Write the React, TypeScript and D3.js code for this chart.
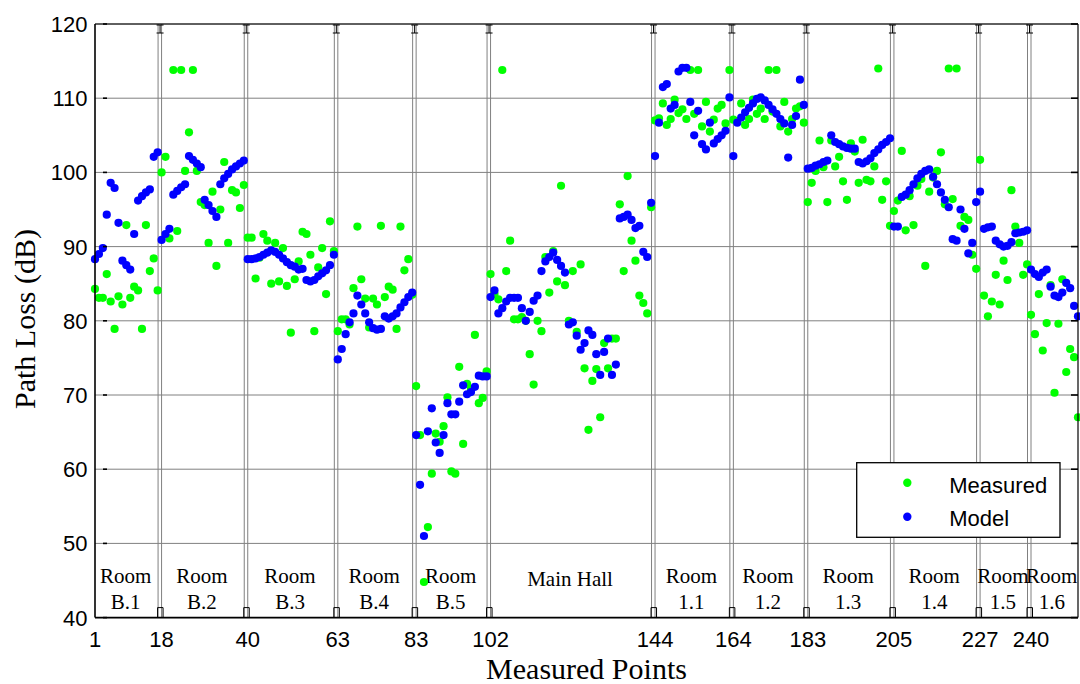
import React from "react"
import * as d3 from "d3"

// ── Data ───────────────────────────────────────────────────────────────────────

const X_TICKS = [1, 18, 40, 63, 83, 102, 144, 164, 183, 205, 227, 240]
const X_END = 252
const Y_TICKS = [40, 50, 60, 70, 80, 90, 100, 110, 120]

const ROOM_NAMES = [
  ["Room", "B.1"], ["Room", "B.2"], ["Room", "B.3"], ["Room", "B.4"], ["Room", "B.5"],
  ["Main Hall"],
  ["Room", "1.1"], ["Room", "1.2"], ["Room", "1.3"], ["Room", "1.4"], ["Room", "1.5"], ["Room", "1.6"],
]

// measured path loss (dB), one value per measured point, room by room
const MEAS_B1 = [84.3, 83.1, 83.1, 86.3, 82.6, 78.9, 83.3, 82.2, 92.9, 83.1, 84.6, 84.1, 78.9, 92.9, 86.7, 88.4, 84.1]
const MEAS_B2 = [100.0, 102.1, 91.1, 113.8, 92.1, 113.8, 100.2, 105.4, 113.8, 100.2, 96.0, 95.6, 90.5, 97.4, 87.4, 95.0, 101.4, 90.5, 97.6, 97.3, 95.2, 98.3]
const MEAS_B3 = [91.2, 91.2, 85.7, 88.5, 91.7, 90.8, 85.0, 90.5, 85.3, 89.8, 84.7, 78.4, 85.6, 88.0, 92.0, 91.7, 88.9, 78.6, 87.2, 89.8, 83.6, 93.4, 89.4]
const MEAS_B4 = [78.6, 80.2, 80.2, 79.5, 84.4, 92.7, 85.6, 83.0, 79.1, 83.0, 82.2, 92.8, 83.2, 84.6, 84.2, 78.9, 92.7, 86.8, 88.3, 83.5]
const MEAS_B5 = [71.2, 64.6, 44.8, 52.2, 59.4, 64.8, 63.7, 65.8, 69.7, 59.7, 59.4, 73.8, 63.4, 71.5, 70.8, 78.1, 68.9, 69.6, 73.2]
const MEAS_HALL = [86.3, 83.6, 82.9, 113.8, 86.7, 90.8, 80.2, 80.2, 80.5, 80.0, 75.5, 71.4, 80.0, 78.6, 88.6, 83.8, 89.4, 85.3, 98.2, 84.8, 80.0, 86.7, 78.5, 87.6, 73.6, 65.3, 71.9, 73.5, 67.0, 77.0, 73.6, 77.6, 77.6, 95.7, 86.7, 99.5, 90.8, 88.1, 83.4, 82.4, 81.0, 95.3]
const MEAS_11 = [107.0, 107.3, 109.3, 106.4, 107.2, 109.8, 108.0, 108.5, 107.2, 113.8, 107.9, 113.8, 106.2, 109.5, 105.5, 107.1, 108.6, 109.1, 106.6, 113.8]
const MEAS_12 = [107.1, 106.9, 109.3, 106.4, 107.2, 109.8, 107.9, 108.6, 107.2, 113.8, 108.2, 113.8, 106.2, 109.5, 105.5, 107.2, 108.6, 108.9, 106.7]
const MEAS_13 = [96.0, 98.6, 100.2, 104.3, 100.7, 96.0, 104.3, 100.8, 102.1, 98.8, 96.3, 103.9, 102.8, 98.6, 104.4, 99.0, 98.8, 100.8, 114.0, 96.3, 98.8, 92.8]
const MEAS_14 = [94.8, 96.2, 102.9, 92.2, 96.8, 92.9, 98.2, 99.1, 87.4, 97.4, 99.3, 100.2, 102.7, 95.7, 114.0, 96.4, 114.0, 92.8, 94.0, 93.6, 88.9, 87.0]
const MEAS_15 = [101.7, 83.4, 80.6, 82.6, 86.2, 82.2, 88.1, 85.5, 97.6, 92.7, 90.5, 86.2, 87.6]
const MEAS_16 = [80.8, 78.2, 83.6, 76.0, 79.7, 84.8, 70.3, 79.6, 85.6, 73.1, 76.2, 75.1, 67.0]

// model path loss (dB)
const MODEL_B1 = [88.3, 89.0, 89.8, 94.3, 98.6, 97.9, 93.2, 88.1, 87.5, 86.9, 91.7, 96.2, 96.8, 97.3, 97.7, 102.1, 102.7]
const MODEL_B2 = [90.9, 91.7, 92.4, 97.0, 97.5, 98.0, 98.4, 102.2, 101.7, 101.2, 100.7, 96.3, 95.6, 94.8, 94.0, 98.4, 99.2, 99.8, 100.4, 100.8, 101.2, 101.6]
const MODEL_B3 = [88.3, 88.3, 88.4, 88.6, 88.9, 89.2, 89.5, 89.3, 88.9, 88.4, 87.9, 87.5, 87.3, 86.9, 87.0, 85.5, 85.3, 85.5, 86.0, 86.4, 86.8, 87.5, 88.9]
const MODEL_B4 = [74.8, 76.2, 78.2, 79.8, 81.0, 83.4, 82.2, 81.0, 79.8, 79.0, 78.8, 78.9, 80.6, 80.3, 80.6, 81.0, 81.8, 82.5, 83.2, 83.8]
const MODEL_B5 = [64.6, 57.9, 51.0, 65.1, 68.2, 63.6, 62.2, 64.6, 68.9, 67.4, 67.4, 69.1, 71.3, 70.1, 70.4, 71.1, 72.6, 72.5, 72.5]
const MODEL_HALL = [83.2, 84.1, 81.0, 81.7, 82.6, 83.1, 83.1, 83.1, 81.7, 80.0, 81.2, 82.7, 83.4, 86.7, 88.0, 88.6, 89.2, 88.2, 87.4, 86.5, 79.5, 79.8, 78.0, 76.1, 77.0, 78.7, 78.1, 75.5, 72.7, 75.8, 77.6, 72.7, 74.1, 93.8, 94.0, 94.3, 93.6, 92.5, 92.8, 89.3, 88.6, 95.9]
const MODEL_11 = [102.2, 106.7, 111.5, 111.9, 108.6, 109.1, 113.6, 114.1, 114.1, 109.5, 105.0, 108.3, 103.8, 103.1, 106.7, 103.9, 104.5, 105.0, 105.6, 110.1]
const MODEL_12 = [102.2, 106.7, 107.4, 108.1, 108.7, 109.3, 109.9, 110.1, 109.7, 109.1, 108.5, 107.9, 107.2, 106.6, 102.0, 106.4, 107.6, 112.5, 109.1]
const MODEL_13 = [100.5, 100.6, 100.9, 101.1, 101.4, 101.6, 105.0, 104.1, 103.8, 103.5, 103.3, 103.2, 103.2, 101.4, 101.2, 101.5, 101.9, 102.6, 103.1, 103.7, 104.1, 104.6]
const MODEL_14 = [92.7, 92.7, 96.7, 97.0, 97.6, 98.4, 99.2, 99.8, 100.2, 100.4, 99.4, 98.4, 97.3, 96.3, 95.3, 91.0, 90.8, 95.0, 92.4, 89.1, 90.5, 96.0]
const MODEL_15 = [97.4, 92.4, 92.6, 92.7, 90.8, 90.3, 90.0, 90.1, 90.6, 91.8, 91.9, 92.0, 92.2]
const MODEL_16 = [86.9, 86.3, 85.9, 86.5, 86.9, 84.6, 83.4, 83.2, 83.8, 85.1, 84.4, 82.0, 80.6]

const MEASURED = [
  ...MEAS_B1, ...MEAS_B2, ...MEAS_B3, ...MEAS_B4, ...MEAS_B5, ...MEAS_HALL,
  ...MEAS_11, ...MEAS_12, ...MEAS_13, ...MEAS_14, ...MEAS_15, ...MEAS_16,
]
const MODEL = [
  ...MODEL_B1, ...MODEL_B2, ...MODEL_B3, ...MODEL_B4, ...MODEL_B5, ...MODEL_HALL,
  ...MODEL_11, ...MODEL_12, ...MODEL_13, ...MODEL_14, ...MODEL_15, ...MODEL_16,
]

// ── Layout ─────────────────────────────────────────────────────────────────────

const W = 1080
const H = 684
const PLOT = { left: 95, right: 1078, top: 24, bottom: 617.6 }
const SANS = "'Liberation Sans', Arial, sans-serif"
const SERIF = "'Liberation Serif', 'Times New Roman', serif"
const GREEN = "#00ff00"
const BLUE = "#0000ff"
const GRID = "#808080"

export default function App() {
  const x = d3.scaleLinear().domain([1, X_END]).range([PLOT.left, PLOT.right])
  const y = d3.scaleLinear().domain([40, 120]).range([PLOT.bottom, PLOT.top])

  const bounds = X_TICKS.slice(1)
  const rooms = ROOM_NAMES.map((lines, i) => {
    const a = X_TICKS[i]
    const b = i + 1 < X_TICKS.length ? X_TICKS[i + 1] : X_END
    return { lines, cx: x((a + b) / 2 - 0.7) }
  })

  return (
    <div style={{ position: "absolute", left: 0, top: 0 }}>
      <svg width={W} height={H} style={{ display: "block", background: "#fff" }}>
        <rect x={0} y={0} width={W} height={H} fill="#fff" />

        {/* horizontal grid */}
        {Y_TICKS.map(t => (
          <line key={`hg-${t}`} x1={PLOT.left} x2={PLOT.right} y1={y(t)} y2={y(t)}
            stroke={GRID} strokeWidth={1} />
        ))}

        {/* room boundaries: double lines */}
        {bounds.map(t => (
          <g key={`vb-${t}`}>
            <line x1={x(t) - 3.5} x2={x(t) - 3.5} y1={PLOT.top} y2={PLOT.bottom} stroke={GRID} strokeWidth={1} />
            <line x1={x(t)} x2={x(t)} y1={PLOT.top} y2={PLOT.bottom} stroke={GRID} strokeWidth={1} />
          </g>
        ))}

        {/* room labels */}
        {rooms.map((r, i) =>
          r.lines.length === 1 ? (
            <text key={`rl-${i}`} x={r.cx} y={586} textAnchor="middle" fontFamily={SERIF} fontSize={21}>
              {r.lines[0]}
            </text>
          ) : (
            <g key={`rl-${i}`} fontFamily={SERIF} fontSize={21} textAnchor="middle">
              <text x={r.cx} y={583}>{r.lines[0]}</text>
              <text x={r.cx} y={608.5}>{r.lines[1]}</text>
            </g>
          ),
        )}

        {/* points */}
        {MEASURED.map((v, i) => (
          <circle key={`m-${i}`} cx={x(i + 1)} cy={y(v)} r={4.1} fill={GREEN} />
        ))}
        {MODEL.map((v, i) => (
          <circle key={`p-${i}`} cx={x(i + 1)} cy={y(v)} r={4.1} fill={BLUE} />
        ))}

        {/* axes box */}
        <line x1={PLOT.left} x2={PLOT.right} y1={PLOT.top} y2={PLOT.top} stroke="#000" strokeWidth={1.2} />
        <line x1={PLOT.right} x2={PLOT.right} y1={PLOT.top} y2={PLOT.bottom} stroke="#000" strokeWidth={1.2} />
        <line x1={PLOT.left} x2={PLOT.right} y1={PLOT.bottom} y2={PLOT.bottom} stroke="#000" strokeWidth={1.6} />
        <line x1={PLOT.left} x2={PLOT.left} y1={PLOT.top} y2={PLOT.bottom} stroke="#000" strokeWidth={1.6} />

        {/* y ticks */}
        {Y_TICKS.map(t => (
          <g key={`yt-${t}`}>
            <line x1={PLOT.left + 8} x2={PLOT.left + 12} y1={y(t)} y2={y(t)} stroke="#000" strokeWidth={1.6} />
            <line x1={PLOT.right - 7} x2={PLOT.right} y1={y(t)} y2={y(t)} stroke="#000" strokeWidth={1.6} />
            <text x={87.5} y={y(t)} dy="0.36em" textAnchor="end" fontFamily={SANS} fontSize={22}>{t}</text>
          </g>
        ))}

        {/* boundary caps top and bottom */}
        {bounds.map(t => {
          const cx = x(t) - 1.5
          return (
            <g key={`cap-${t}`} stroke="#000" strokeWidth={1} fill="none">
              <path d={`M${cx - 3.5},${PLOT.top + 1} H${cx + 3.5} M${cx},${PLOT.top + 1} V${PLOT.top + 9} M${cx - 3.5},${PLOT.top + 9} H${cx + 3.5}`} />
              <path d={`M${cx - 2.5},${PLOT.bottom} V${PLOT.bottom - 10} H${cx + 3} V${PLOT.bottom}`} />
            </g>
          )
        })}

        {/* x tick labels */}
        {X_TICKS.map(t => (
          <text key={`xt-${t}`} x={x(t)} y={646.5} textAnchor="middle" fontFamily={SANS} fontSize={22}>{t}</text>
        ))}

        {/* legend */}
        <rect x={856.7} y={462.7} width={203.3} height={74.6} fill="#fff" stroke="#000" strokeWidth={1.3} />
        <circle cx={907.3} cy={482.7} r={4.2} fill={GREEN} />
        <text x={949.3} y={493} fontFamily={SANS} fontSize={22}>Measured</text>
        <circle cx={907.3} cy={516.7} r={4.2} fill={BLUE} />
        <text x={949.3} y={526} fontFamily={SANS} fontSize={22}>Model</text>

        {/* axis titles */}
        <text x={(PLOT.left + PLOT.right) / 2} y={679} textAnchor="middle" fontFamily={SERIF} fontSize={30}>
          Measured Points
        </text>
        <text transform="translate(35,319) rotate(-90)" textAnchor="middle" fontFamily={SERIF} fontSize={30}>
          Path Loss (dB)
        </text>
      </svg>
    </div>
  )
}
